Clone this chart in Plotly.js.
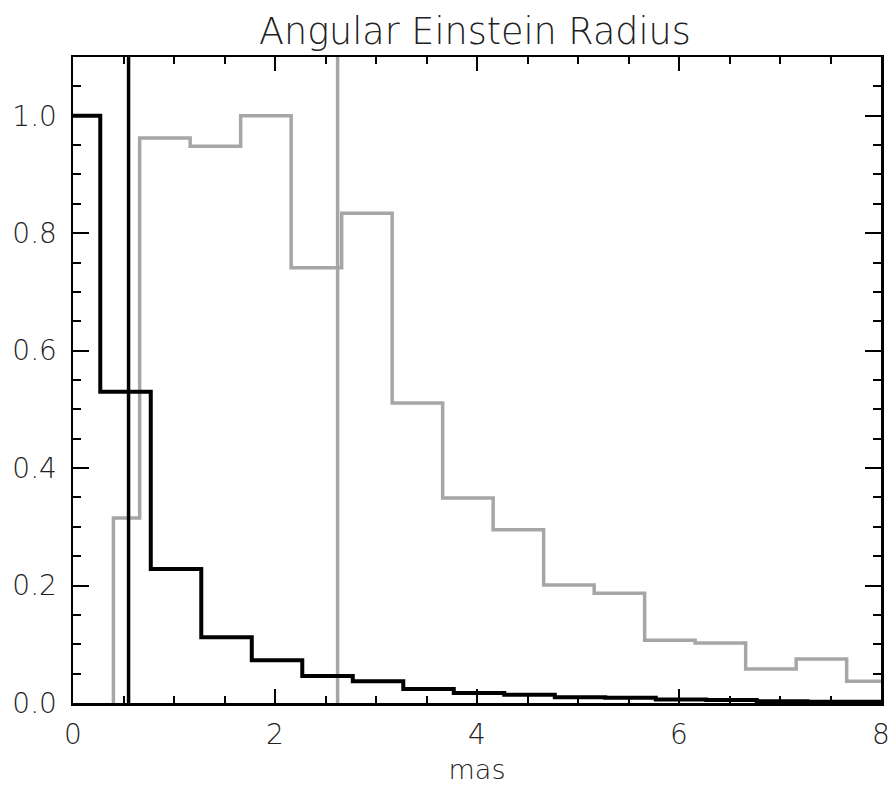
<!DOCTYPE html>
<html>
<head>
<meta charset="utf-8">
<script src="https://cdn.plot.ly/plotly-3.0.1.min.js"></script>
<style>html,body{margin:0;padding:0;background:#fff;}</style>
</head>
<body>
<div id="chart" style="width:891px;height:789px;"></div>
<script>
// Black histogram (bin left edges, last edge = 8) and normalized heights
var blackEdges = [0, 0.27, 0.77, 1.27, 1.77, 2.27, 2.77, 3.27, 3.77, 4.27, 4.77, 5.27, 5.77, 6.27, 6.77, 7.27, 7.77, 8.0];
var blackValues = [1.0, 0.53, 0.228, 0.112, 0.073, 0.046, 0.037, 0.024, 0.017, 0.014, 0.010, 0.009, 0.006, 0.005, 0.003, 0.002, 0.002, 0.002];

// Gray histogram
var grayEdges = [0.40, 0.40, 0.66, 1.16, 1.66, 2.16, 2.66, 3.16, 3.66, 4.16, 4.66, 5.16, 5.66, 6.16, 6.66, 7.16, 7.66, 8.0];
var grayValues = [0.0, 0.315, 0.962, 0.948, 1.0, 0.741, 0.834, 0.511, 0.349, 0.295, 0.201, 0.187, 0.107, 0.102, 0.058, 0.075, 0.037, 0.037];

// Vertical marker lines
var blackMarker = 0.55;
var grayMarker = 2.62;
var yTop = 1.1;

var textColor = '#222';
var fontFam = 'DejaVu Sans, sans-serif';

var traces = [
  {x: grayEdges, y: grayValues, mode: 'lines', line: {shape: 'hv', color: '#a6a6a6', width: 3.5}, hoverinfo: 'skip'},
  {x: [grayMarker, grayMarker], y: [0, yTop], mode: 'lines', line: {color: '#a6a6a6', width: 3.5}, hoverinfo: 'skip'},
  {x: blackEdges, y: blackValues, mode: 'lines', line: {shape: 'hv', color: '#000', width: 4}, hoverinfo: 'skip'},
  {x: [blackMarker, blackMarker], y: [0, yTop], mode: 'lines', line: {color: '#000', width: 3.5}, hoverinfo: 'skip'}
];

var layout = {
  width: 891, height: 789,
  margin: {l: 73, r: 10, t: 57, b: 86},
  paper_bgcolor: '#fff', plot_bgcolor: '#fff',
  showlegend: false,
  font: {family: fontFam, color: textColor, size: 28, weight: 300},
  title: {text: 'Angular Einstein Radius', font: {family: fontFam, size: 36.5, color: textColor, weight: 300},
          x: 0.533, xanchor: 'center', y: 1 - 31/789, yref: 'container', yanchor: 'middle'},
  xaxis: {
    range: [0, 8], tickvals: [0, 2, 4, 6, 8], ticktext: ['0', '2', '4', '6', '8'],
    ticks: 'inside', ticklen: 14, tickwidth: 2, tickcolor: '#000',
    minor: {dtick: 0.5, tick0: 0, ticks: 'inside', ticklen: 7, tickwidth: 2, tickcolor: '#000', showgrid: false},
    showline: true, linecolor: '#000', linewidth: 2.5, mirror: 'ticks',
    showgrid: false, zeroline: false,
    tickfont: {size: 28, color: textColor, weight: 300}, ticklabelstandoff: 5,
    title: {text: 'mas', font: {size: 27, color: textColor, weight: 300}, standoff: 10}
  },
  yaxis: {
    range: [0, 1.1], tickvals: [0, 0.2, 0.4, 0.6, 0.8, 1.0], ticktext: ['0.0', '0.2', '0.4', '0.6', '0.8', '1.0'],
    ticks: 'inside', ticklen: 16, tickwidth: 2, tickcolor: '#000',
    minor: {dtick: 0.05, tick0: 0, ticks: 'inside', ticklen: 8, tickwidth: 2, tickcolor: '#000', showgrid: false},
    showline: true, linecolor: '#000', linewidth: 2.5, mirror: 'ticks',
    showgrid: false, zeroline: false,
    tickfont: {size: 28, color: textColor, weight: 300}, ticklabelstandoff: 8
  }
};

Plotly.newPlot('chart', traces, layout, {staticPlot: true, displayModeBar: false});
</script>
</body>
</html>
